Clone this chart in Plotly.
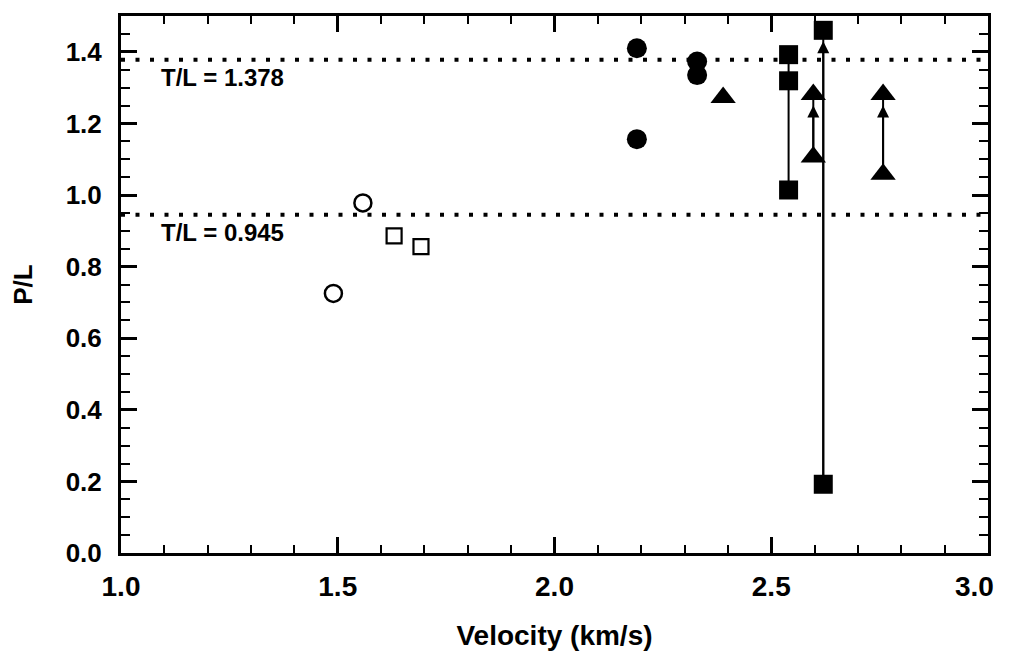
import plotly.graph_objects as go

# open circles
oc_x = [1.49, 1.558]
oc_y = [0.725, 0.978]
# open squares
os_x = [1.630, 1.692]
os_y = [0.886, 0.856]
# filled circles
fc_x = [2.19, 2.19, 2.329, 2.329]
fc_y = [1.410, 1.156, 1.373, 1.335]
# filled squares
fs_x = [2.540, 2.540, 2.540, 2.620, 2.620]
fs_y = [1.392, 1.319, 1.014, 1.460, 0.192]
# filled triangles
ft_x = [2.389, 2.597, 2.597, 2.758, 2.758]
ft_y = [1.272, 1.281, 1.106, 1.281, 1.058]

# plain connecting line (no arrow)
seg_x = [2.540, 2.540]
seg_y = [1.014, 1.392]
# arrows: x, from y, to y
arr_x = [2.620, 2.597, 2.758]
arr_y0 = [0.192, 1.106, 1.058]
arr_y1 = [1.460, 1.281, 1.281]

# threshold lines
tl_vals = [1.378, 0.945]
tl_labels = ["T/L = 1.378", "T/L = 0.945"]

# x tick labels
x_tickvals = [1.0, 1.5, 2.0, 2.5, 3.0]
x_ticktext = ["1.0", "1.5", "2.0", "2.5", "3.0"]

FONT = "Liberation Sans, Arial, sans-serif"
TICKFONT_X = dict(family=FONT, size=28, color="black", weight="bold")

fig = go.Figure()

fig.add_trace(go.Scatter(x=seg_x, y=seg_y, mode="lines",
                         line=dict(color="black", width=2), showlegend=False))
for xv, y0, y1 in zip(arr_x, arr_y0, arr_y1):
    fig.add_trace(go.Scatter(x=[xv, xv], y=[y0, y1], mode="lines",
                             line=dict(color="black", width=2), showlegend=False))

fig.add_trace(go.Scatter(x=oc_x, y=oc_y, mode="markers",
                         marker=dict(symbol="circle-open", size=17, color="black",
                                     line=dict(width=2.5)), showlegend=False))
fig.add_trace(go.Scatter(x=os_x, y=os_y, mode="markers",
                         marker=dict(symbol="square-open", size=15, color="black",
                                     line=dict(width=2.2)), showlegend=False))
fig.add_trace(go.Scatter(x=fc_x, y=fc_y, mode="markers",
                         marker=dict(symbol="circle", size=20, color="black"),
                         showlegend=False))
fig.add_trace(go.Scatter(x=fs_x, y=fs_y, mode="markers",
                         marker=dict(symbol="square", size=19, color="black"),
                         showlegend=False))
fig.add_trace(go.Scatter(x=ft_x, y=ft_y, mode="markers",
                         marker=dict(symbol="triangle-up", size=22, color="black"),
                         showlegend=False))

# arrowheads
for xv, y0, y1 in zip(arr_x, arr_y0, arr_y1):
    fig.add_annotation(x=xv, y=y1, ax=xv, ay=y0, xref="x", yref="y",
                       axref="x", ayref="y", text="", showarrow=True,
                       arrowhead=2, arrowsize=1.2, arrowwidth=2,
                       arrowcolor="black", standoff=11)

for v, lab in zip(tl_vals, tl_labels):
    fig.add_shape(type="line", xref="paper", yref="y", x0=0, x1=1, y0=v, y1=v,
                  line=dict(color="black", width=4, dash="4px,10.5px"))
    fig.add_annotation(x=1.088, y=v, xref="x", yref="y", text=lab, showarrow=False,
                       xanchor="left", yanchor="top", yshift=-2,
                       font=dict(family=FONT, size=24, color="black", weight="bold"))

# last x tick label is right-aligned to its tick so that it stays inside the page
axis_ticktext = x_ticktext[:-1] + [""]
fig.add_annotation(x=x_tickvals[-1], y=0, xref="x", yref="paper",
                   text=x_ticktext[-1], showarrow=False,
                   xanchor="right", yanchor="middle", xshift=8, yshift=-33,
                   font=TICKFONT_X)

axis_common = dict(
    showline=True, linecolor="black", linewidth=3, mirror="ticks",
    ticks="inside", tickcolor="black", tickwidth=2.5, showgrid=False,
    zeroline=False,
)

fig.update_xaxes(range=[1.0, 3.0], tickmode="array", tickvals=x_tickvals,
                 ticktext=axis_ticktext,
                 ticklen=16, ticklabelstandoff=6,
                 tickfont=TICKFONT_X,
                 minor=dict(dtick=0.1, tick0=1.0, ticks="inside", ticklen=8, tickwidth=2,
                            tickcolor="black", showgrid=False),
                 title=dict(text="Velocity (km/s)", standoff=25,
                            font=dict(family=FONT, size=28, color="black", weight="bold")),
                 **axis_common)
fig.update_yaxes(range=[0.0, 1.5], dtick=0.2, tick0=0.0, tickformat=".1f",
                 ticklen=16, ticklabelstandoff=11,
                 tickfont=dict(family=FONT, size=26, color="black", weight="bold"),
                 minor=dict(dtick=0.05, ticks="inside", ticklen=9, tickwidth=2,
                            tickcolor="black", showgrid=False),
                 title=dict(text="P/L", standoff=28,
                            font=dict(family=FONT, size=26, color="black", weight="bold")),
                 **axis_common)

fig.update_layout(
    width=1012, height=662,
    margin=dict(l=113, r=32, t=5, b=117),
    paper_bgcolor="white", plot_bgcolor="white",
)

fig.write_html("out.html")
